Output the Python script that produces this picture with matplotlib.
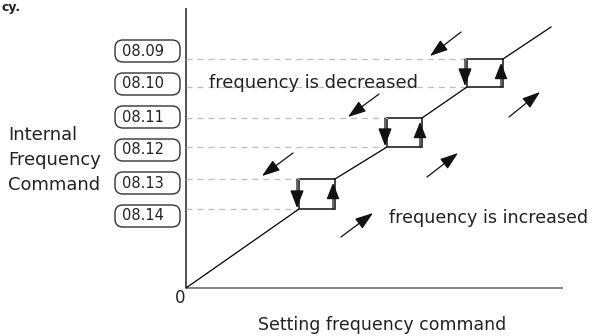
import matplotlib
matplotlib.use("Agg")
import matplotlib.pyplot as plt
from matplotlib.patches import FancyBboxPatch, Rectangle
import numpy as np

plt.rcParams['font.family'] = ['DejaVu Sans']
plt.rcParams['lines.scale_dashes'] = False

# ---- data ----
level_labels = ['08.09', '08.10', '08.11', '08.12', '08.13', '08.14']
# hysteresis steps (setting frequency -> internal frequency command)
step_down_x = [113, 201, 281]   # where a decreasing command drops to the lower level
step_up_x = [149, 236, 317]     # where an increasing command jumps to the upper level
step_low = [79, 141, 201]       # 08.14, 08.12, 08.10
step_high = [109, 170, 229]     # 08.13, 08.11, 08.09
line_end = (365, 261)
# free-standing direction arrows (start, end)
dec_arrows = [((275, 256), (244, 232)), ((193, 194), (162, 171)), ((107, 135), (76, 112))]
inc_arrows = [((323, 171), (354, 196)), ((241, 111), (272, 135)), ((155, 51), (187, 75))]

txt = '#222222'
fig = plt.figure(figsize=(5.92, 3.36), dpi=100)
ax = fig.add_axes([0, 0, 1, 1])
ax.set_xlim(-186, 406)
ax.set_ylim(-48, 288)
ax.axis('off')

# axes
ax.plot([0, 0], [0, 280], color='#222222', lw=1.1, solid_capstyle='butt')
ax.plot([0, 377], [0, 0], color='#777777', lw=1.3, solid_capstyle='butt')

# dashed guide lines
for xl, lo, hi in zip(step_down_x, step_low, step_high):
    for lev in (lo, hi):
        ax.plot([0, xl], [lev, lev], color='#bdbdbd', lw=0.9, dashes=(4.3, 3.6))

# diagonal segments
segs = []
prev = (0, 0)
for xl, xh, lo, hi in zip(step_down_x, step_up_x, step_low, step_high):
    segs.append((prev, (xl, lo)))
    prev = (xh, hi)
segs.append((prev, line_end))
for (x0, y0), (x1, y1) in segs:
    ax.plot([x0, x1], [y0, y1], color='black', lw=0.9)

# hysteresis boxes
for xl, xh, lo, hi in zip(step_down_x, step_up_x, step_low, step_high):
    ax.add_patch(Rectangle((xl, lo), xh - xl, hi - lo, fill=False,
                           edgecolor='#333333', lw=1.3))
    ax.annotate('', xy=(xl - 2, lo + 1), xytext=(xl - 2, hi),
                arrowprops=dict(arrowstyle='-|>,head_length=1.1,head_width=0.42',
                                mutation_scale=10, color='#111111', lw=0.9,
                                shrinkA=0, shrinkB=0))
    ax.annotate('', xy=(xh - 2, hi - 4), xytext=(xh - 2, lo),
                arrowprops=dict(arrowstyle='-|>,head_length=1.0,head_width=0.4',
                                mutation_scale=10, color='#111111', lw=0.9,
                                shrinkA=0, shrinkB=0))

# free arrows
for (s, e) in dec_arrows + inc_arrows:
    ax.annotate('', xy=e, xytext=s,
                arrowprops=dict(arrowstyle='-|>,head_length=1.1,head_width=0.38',
                                mutation_scale=10, color='#111111', lw=0.9,
                                shrinkA=0, shrinkB=0))

# level label boxes
label_y = np.linspace(237, 72, len(level_labels))
for lab, yy in zip(level_labels, label_y):
    ax.add_patch(FancyBboxPatch((-71, yy - 11), 65, 22,
                                boxstyle='round,pad=0,rounding_size=8',
                                fill=False, edgecolor='#333333', lw=1.0))
    ax.text(-64, yy, lab, ha='left', va='center', fontsize=10.5, color=txt)

# texts
for i, line in enumerate(['Internal', 'Frequency', 'Command']):
    ax.text(-178, 153 - 25 * i, line, ha='left', va='center', fontsize=12.9, color=txt)
ax.text(-6, -10, '0', ha='center', va='center', fontsize=12, color=txt)
ax.text(23, 205, 'frequency is decreased', ha='left', va='center', fontsize=12.9, color=txt)
ax.text(203, 70, 'frequency is increased', ha='left', va='center', fontsize=12.6, color=txt)
ax.text(196, -37, 'Setting frequency command', ha='center', va='center', fontsize=12.5, color=txt)
ax.text(-185, 287, 'cy.', ha='left', va='top', fontsize=9, fontweight='bold', color=txt)

fig.savefig('out.png', dpi=100)
